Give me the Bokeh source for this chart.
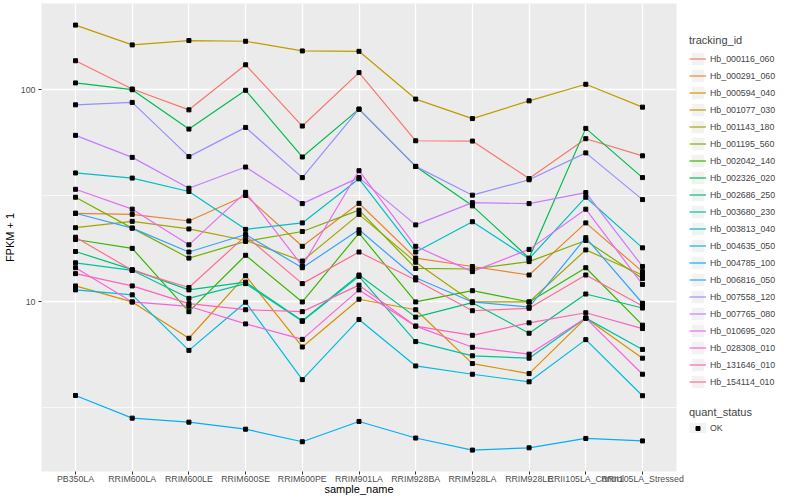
from bokeh.plotting import figure
from bokeh.layouts import row
from bokeh.models import (FactorRange, Range1d, FixedTicker, Legend, LegendItem,
                          BasicTickFormatter)
from bokeh.embed import file_html
from bokeh.resources import INLINE

samples = ["PB350LA", "RRIM600LA", "RRIM600LE", "RRIM600SE", "RRIM600PE", "RRIM901LA",
           "RRIM928BA", "RRIM928LA", "RRIM928LE", "RRII105LA_Control", "RRII105LA_Stressed"]

hb_000116_060 = [137.4, 101.1, 80.6, 131.5, 67.6, 120.8, 57.6, 57.4, 38.2, 58.9, 48.9]
hb_000291_060 = [26.2, 25.9, 24.1, 31.8, 18.3, 29.2, 16.1, 14.7, 13.4, 23.6, 13.9]
hb_000594_040 = [11.9, 10.0, 6.74, 13.3, 6.13, 10.3, 9.19, 5.12, 4.59, 8.39, 5.43]
hb_001077_030 = [202.4, 163.2, 171.1, 169.8, 152.8, 152.2, 90.6, 73.3, 88.9, 106.4, 83.0]
hb_001143_180 = [22.4, 24.0, 22.1, 19.5, 15.6, 25.9, 15.4, 10.0, 10.0, 17.6, 13.4]
hb_001195_560 = [31.2, 22.3, 16.1, 19.3, 21.5, 27.1, 14.4, 14.3, 15.5, 19.5, 12.9]
hb_002042_140 = [19.7, 17.9, 9.0, 16.6, 10.0, 21.1, 10.0, 11.3, 10.0, 14.5, 7.77]
hb_002326_020 = [108.0, 100.3, 65.4, 99.7, 48.3, 81.2, 43.6, 28.4, 16.1, 65.9, 38.6]
hb_002686_250 = [17.3, 14.2, 11.4, 12.4, 8.15, 13.4, 8.48, 9.92, 7.12, 10.9, 9.36]
hb_003680_230 = [15.3, 14.1, 10.4, 12.2, 8.1, 13.2, 6.5, 5.57, 5.43, 8.39, 5.97]
hb_003813_040 = [40.6, 38.4, 33.2, 22.0, 23.6, 38.1, 17.2, 23.9, 16.0, 31.2, 18.0]
hb_004635_050 = [11.4, 10.8, 5.91, 9.97, 4.30, 8.27, 4.99, 4.56, 4.20, 6.64, 3.61]
hb_004785_100 = [3.62, 2.83, 2.71, 2.51, 2.19, 2.73, 2.28, 2.00, 2.05, 2.27, 2.21]
hb_006816_050 = [26.2, 22.3, 17.2, 20.8, 14.5, 21.9, 13.0, 10.0, 9.46, 20.1, 9.86]
hb_007558_120 = [85.1, 87.4, 48.5, 66.6, 38.6, 81.2, 43.6, 31.9, 37.7, 50.5, 30.4]
hb_007765_080 = [61.1, 48.1, 34.4, 43.3, 29.1, 38.6, 23.1, 29.4, 29.1, 32.8, 14.7]
hb_010695_020 = [34.0, 27.4, 18.6, 32.9, 14.8, 41.6, 18.3, 13.9, 17.7, 27.4, 12.1]
hb_028308_010 = [14.5, 10.0, 9.54, 7.88, 6.66, 11.4, 7.69, 6.11, 5.67, 8.39, 4.56]
hb_131646_010 = [13.6, 11.9, 9.82, 9.19, 9.0, 12.0, 7.69, 6.96, 7.97, 8.89, 7.49]
hb_154114_010 = [20.2, 14.1, 11.7, 20.5, 12.2, 17.2, 12.7, 9.09, 9.33, 13.4, 9.57]

tracking_ids = ["Hb_000116_060", "Hb_000291_060", "Hb_000594_040", "Hb_001077_030",
                "Hb_001143_180", "Hb_001195_560", "Hb_002042_140", "Hb_002326_020",
                "Hb_002686_250", "Hb_003680_230", "Hb_003813_040", "Hb_004635_050",
                "Hb_004785_100", "Hb_006816_050", "Hb_007558_120", "Hb_007765_080",
                "Hb_010695_020", "Hb_028308_010", "Hb_131646_010", "Hb_154114_010"]
series_values = [hb_000116_060, hb_000291_060, hb_000594_040, hb_001077_030,
                 hb_001143_180, hb_001195_560, hb_002042_140, hb_002326_020,
                 hb_002686_250, hb_003680_230, hb_003813_040, hb_004635_050,
                 hb_004785_100, hb_006816_050, hb_007558_120, hb_007765_080,
                 hb_010695_020, hb_028308_010, hb_131646_010, hb_154114_010]
quant_status = ["OK"]

palette = ["#F8766D", "#EA8331", "#D89000", "#C09B00", "#A3A500", "#7CAE00", "#39B600",
           "#00BB4E", "#00BF7D", "#00C1A3", "#00BFC4", "#00BAE0", "#00B0F6", "#35A2FF",
           "#9590FF", "#C77CFF", "#E76BF3", "#FA62DB", "#FF62BC", "#FF6C91"]

FONT = "Liberation Sans"
H = 497

p = figure(width=689, height=H,
           x_range=FactorRange(factors=samples, range_padding=0.1, range_padding_units="absolute"),
           y_range=Range1d(1.585, 255.9), y_axis_type="log",
           output_backend="svg", toolbar_location=None,
           min_border_left=32, min_border_right=13, min_border_top=3, min_border_bottom=0)
p.background_fill_color = "#EBEBEB"
p.border_fill_color = "white"
p.outline_line_color = None

p.yaxis.ticker = FixedTicker(ticks=[10, 100], minor_ticks=[3.1623, 31.623])
p.yaxis.formatter = BasicTickFormatter()
p.yaxis.major_label_overrides = {10: "10", 100: "100"}

p.xgrid.grid_line_color = "white"
p.xgrid.grid_line_width = 1.3
p.ygrid.grid_line_color = "white"
p.ygrid.grid_line_width = 1.3
p.ygrid.minor_grid_line_color = "white"
p.ygrid.minor_grid_line_width = 0.7

for ax in (p.xaxis[0], p.yaxis[0]):
    ax.axis_line_color = None
    ax.major_tick_line_color = "#333333"
    ax.major_tick_out = 3
    ax.major_tick_in = 0
    ax.minor_tick_line_color = None
    ax.major_label_text_font = FONT
    ax.major_label_text_font_size = "8.8px"
    ax.major_label_text_color = "#4D4D4D"
    ax.axis_label_text_font = FONT
    ax.axis_label_text_font_size = "11px"
    ax.axis_label_text_font_style = "normal"
    ax.axis_label_text_color = "black"
p.xaxis.major_label_standoff = -1
p.xaxis.axis_label_standoff = -4
p.yaxis.major_label_standoff = 2
p.yaxis.axis_label_standoff = 2
p.xaxis.axis_label = "sample_name"
p.yaxis.axis_label = "FPKM + 1"
p.xaxis.major_label_orientation = "horizontal"

xs, ys = [], []
for vals, col in zip(series_values, palette):
    p.line(x=samples, y=vals, line_color=col, line_width=1.2)
    xs.extend(samples)
    ys.extend(vals)
p.scatter(x=xs, y=ys, marker="square", size=4, color="black")

# legend panel (its glyph renderers sit outside the visible range; only the legend shows them)
lf = figure(width=95, height=H, x_range=Range1d(0, 1), y_range=Range1d(0, 1),
            x_axis_location=None, y_axis_location=None,
            output_backend="svg", toolbar_location=None, min_border=0)
lf.outline_line_color = None
lf.grid.visible = False
lf.background_fill_color = "white"
lf.border_fill_color = "white"

bg = lf.rect(x=[5], y=[5], width=1, height=1, fill_color="#F2F2F2", line_color="white", line_width=1)
items = []
for name, col in zip(tracking_ids, palette):
    r = lf.line(x=[5, 6], y=[5, 5], line_color=col, line_width=1.2)
    items.append(LegendItem(label=name, renderers=[bg, r]))
bg2 = lf.line(x=[5, 6], y=[5, 5], line_color="#F2F2F2", line_width=16)
pt = lf.scatter(x=[5], y=[5], marker="square", size=4, color="black")


def style(leg):
    leg.glyph_width = 17
    leg.glyph_height = 17
    leg.label_height = 17
    leg.spacing = 0
    leg.padding = 0
    leg.margin = 0
    leg.label_standoff = 4
    leg.label_text_font = FONT
    leg.label_text_font_size = "8.8px"
    leg.title_text_font = FONT
    leg.title_text_font_size = "11px"
    leg.title_text_font_style = "normal"
    leg.title_standoff = 4
    leg.border_line_color = None
    leg.background_fill_alpha = 0


leg1 = Legend(items=items, location=(0, 81), title="tracking_id")
style(leg1)
lf.add_layout(leg1)

leg2 = Legend(items=[LegendItem(label=quant_status[0], renderers=[bg2, pt])],
              location=(0, 38), title="quant_status")
style(leg2)
leg2.glyph_height = 10
leg2.label_height = 10
leg2.title_standoff = 5
lf.add_layout(leg2)

layout = row(p, lf, spacing=0)
open("out.html", "w").write(file_html(layout, INLINE))
